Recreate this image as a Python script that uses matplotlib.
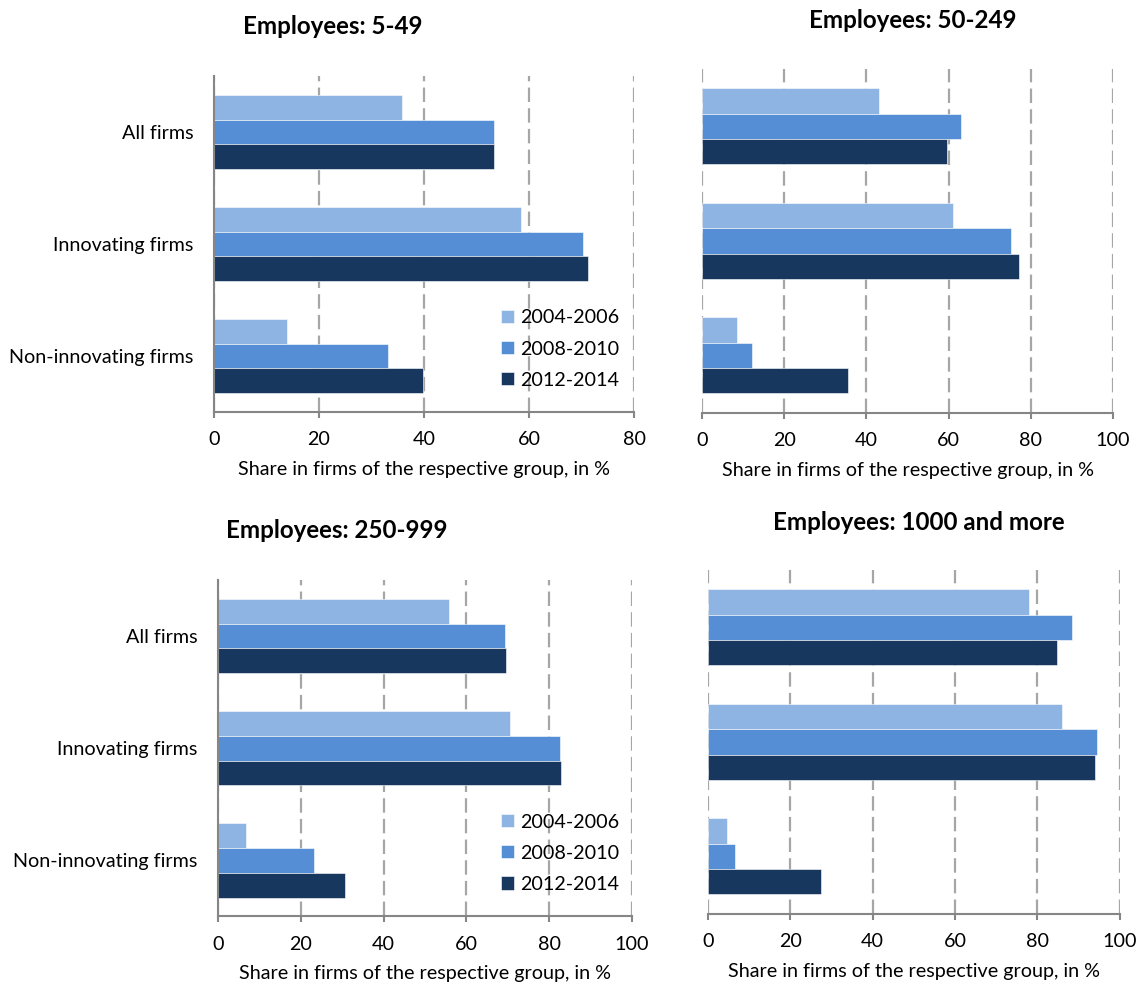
import numpy as np
import matplotlib
matplotlib.use("Agg")
import matplotlib.pyplot as plt

plt.rcParams["font.family"] = ["Lato", "DejaVu Sans"]

categories = ["All firms", "Innovating firms", "Non-innovating firms"]
periods = ["2004-2006", "2008-2010", "2012-2014"]
colors = ["#8EB4E3", "#558ED5", "#17375E"]

# share in %, rows = categories, one list per period
emp_5_49 = {
    "2004-2006": [35.8, 58.5, 13.9],
    "2008-2010": [53.4, 70.3, 33.1],
    "2012-2014": [53.3, 71.2, 39.8],
}
emp_50_249 = {
    "2004-2006": [43.1, 61.0, 8.4],
    "2008-2010": [63.0, 75.1, 12.1],
    "2012-2014": [59.6, 77.1, 35.6],
}
emp_250_999 = {
    "2004-2006": [55.9, 70.5, 6.8],
    "2008-2010": [69.4, 82.5, 23.2],
    "2012-2014": [69.5, 82.8, 30.7],
}
emp_1000 = {
    "2004-2006": [78.0, 85.9, 4.6],
    "2008-2010": [88.5, 94.6, 6.6],
    "2012-2014": [84.8, 94.0, 27.4],
}

W, H = 1140, 988
fig = plt.figure(figsize=(W / 100, H / 100), dpi=100)


def px_axes(left, top, right, bottom):
    return fig.add_axes([left / W, 1 - bottom / H, (right - left) / W, (bottom - top) / H])


panels = [
    # data, xmax, axes box (px), title, title pos, show ylabels, show legend
    (emp_5_49, 80, (214, 76, 634, 412), "Employees: 5-49", (333, 27), True, True),
    (emp_50_249, 100, (702, 69, 1113, 412.6), "Employees: 50-249", (913, 20), False, False),
    (emp_250_999, 100, (218, 580, 632, 916.3), "Employees: 250-999", (337, 530), True, True),
    (emp_1000, 100, (708, 570, 1119.7, 913.6), "Employees: 1000 and more", (919, 522), False, False),
]

axis_grey = "#868686"
grid_grey = "#A6A6A6"
fs = 14.2
h = 0.222
y = np.arange(len(categories))

for data, xmax, box, title, tpos, show_y, show_leg in panels:
    ax = px_axes(*box)
    for i, p in enumerate(periods):
        ax.barh(y + (i - 1) * h, data[p], height=h, color=colors[i],
                edgecolor="white", linewidth=0.4, label=p, zorder=2)
    ax.set_xlim(0, xmax)
    ax.set_ylim(-0.5, 2.5)
    ax.invert_yaxis()
    ax.set_xticks(np.arange(0, xmax + 1, 20))
    ax.set_axisbelow(True)
    ax.xaxis.grid(True, color=grid_grey, linewidth=1.6, linestyle=(0, (6.5, 2.8)))
    for s in ["top", "right"]:
        ax.spines[s].set_visible(False)
    ax.spines["bottom"].set_color(axis_grey)
    ax.spines["bottom"].set_linewidth(1.5)
    if show_y:
        ax.spines["left"].set_color(axis_grey)
        ax.spines["left"].set_linewidth(1.5)
        ax.set_yticks(y)
        ax.set_yticklabels(categories)
    else:
        ax.spines["left"].set_visible(False)
        ax.set_yticks([])
    ax.tick_params(axis="y", length=0, pad=15, labelsize=fs)
    ax.tick_params(axis="x", length=4, width=1.5, color=axis_grey, pad=10, labelsize=fs)
    ax.set_xlabel("Share in firms of the respective group, in %", fontsize=fs, labelpad=9)
    fig.text(tpos[0] / W, 1 - tpos[1] / H, title, fontsize=17.4, fontweight="bold",
             ha="center", va="center")
    if show_leg:
        ax.legend(loc="center left", bbox_to_anchor=(0.66, 0.1875), frameon=False,
                  fontsize=fs, handlelength=0.65, handleheight=0.65, handletextpad=0.3,
                  labelspacing=0.72, borderpad=0)

fig.savefig("out.png", dpi=100)
